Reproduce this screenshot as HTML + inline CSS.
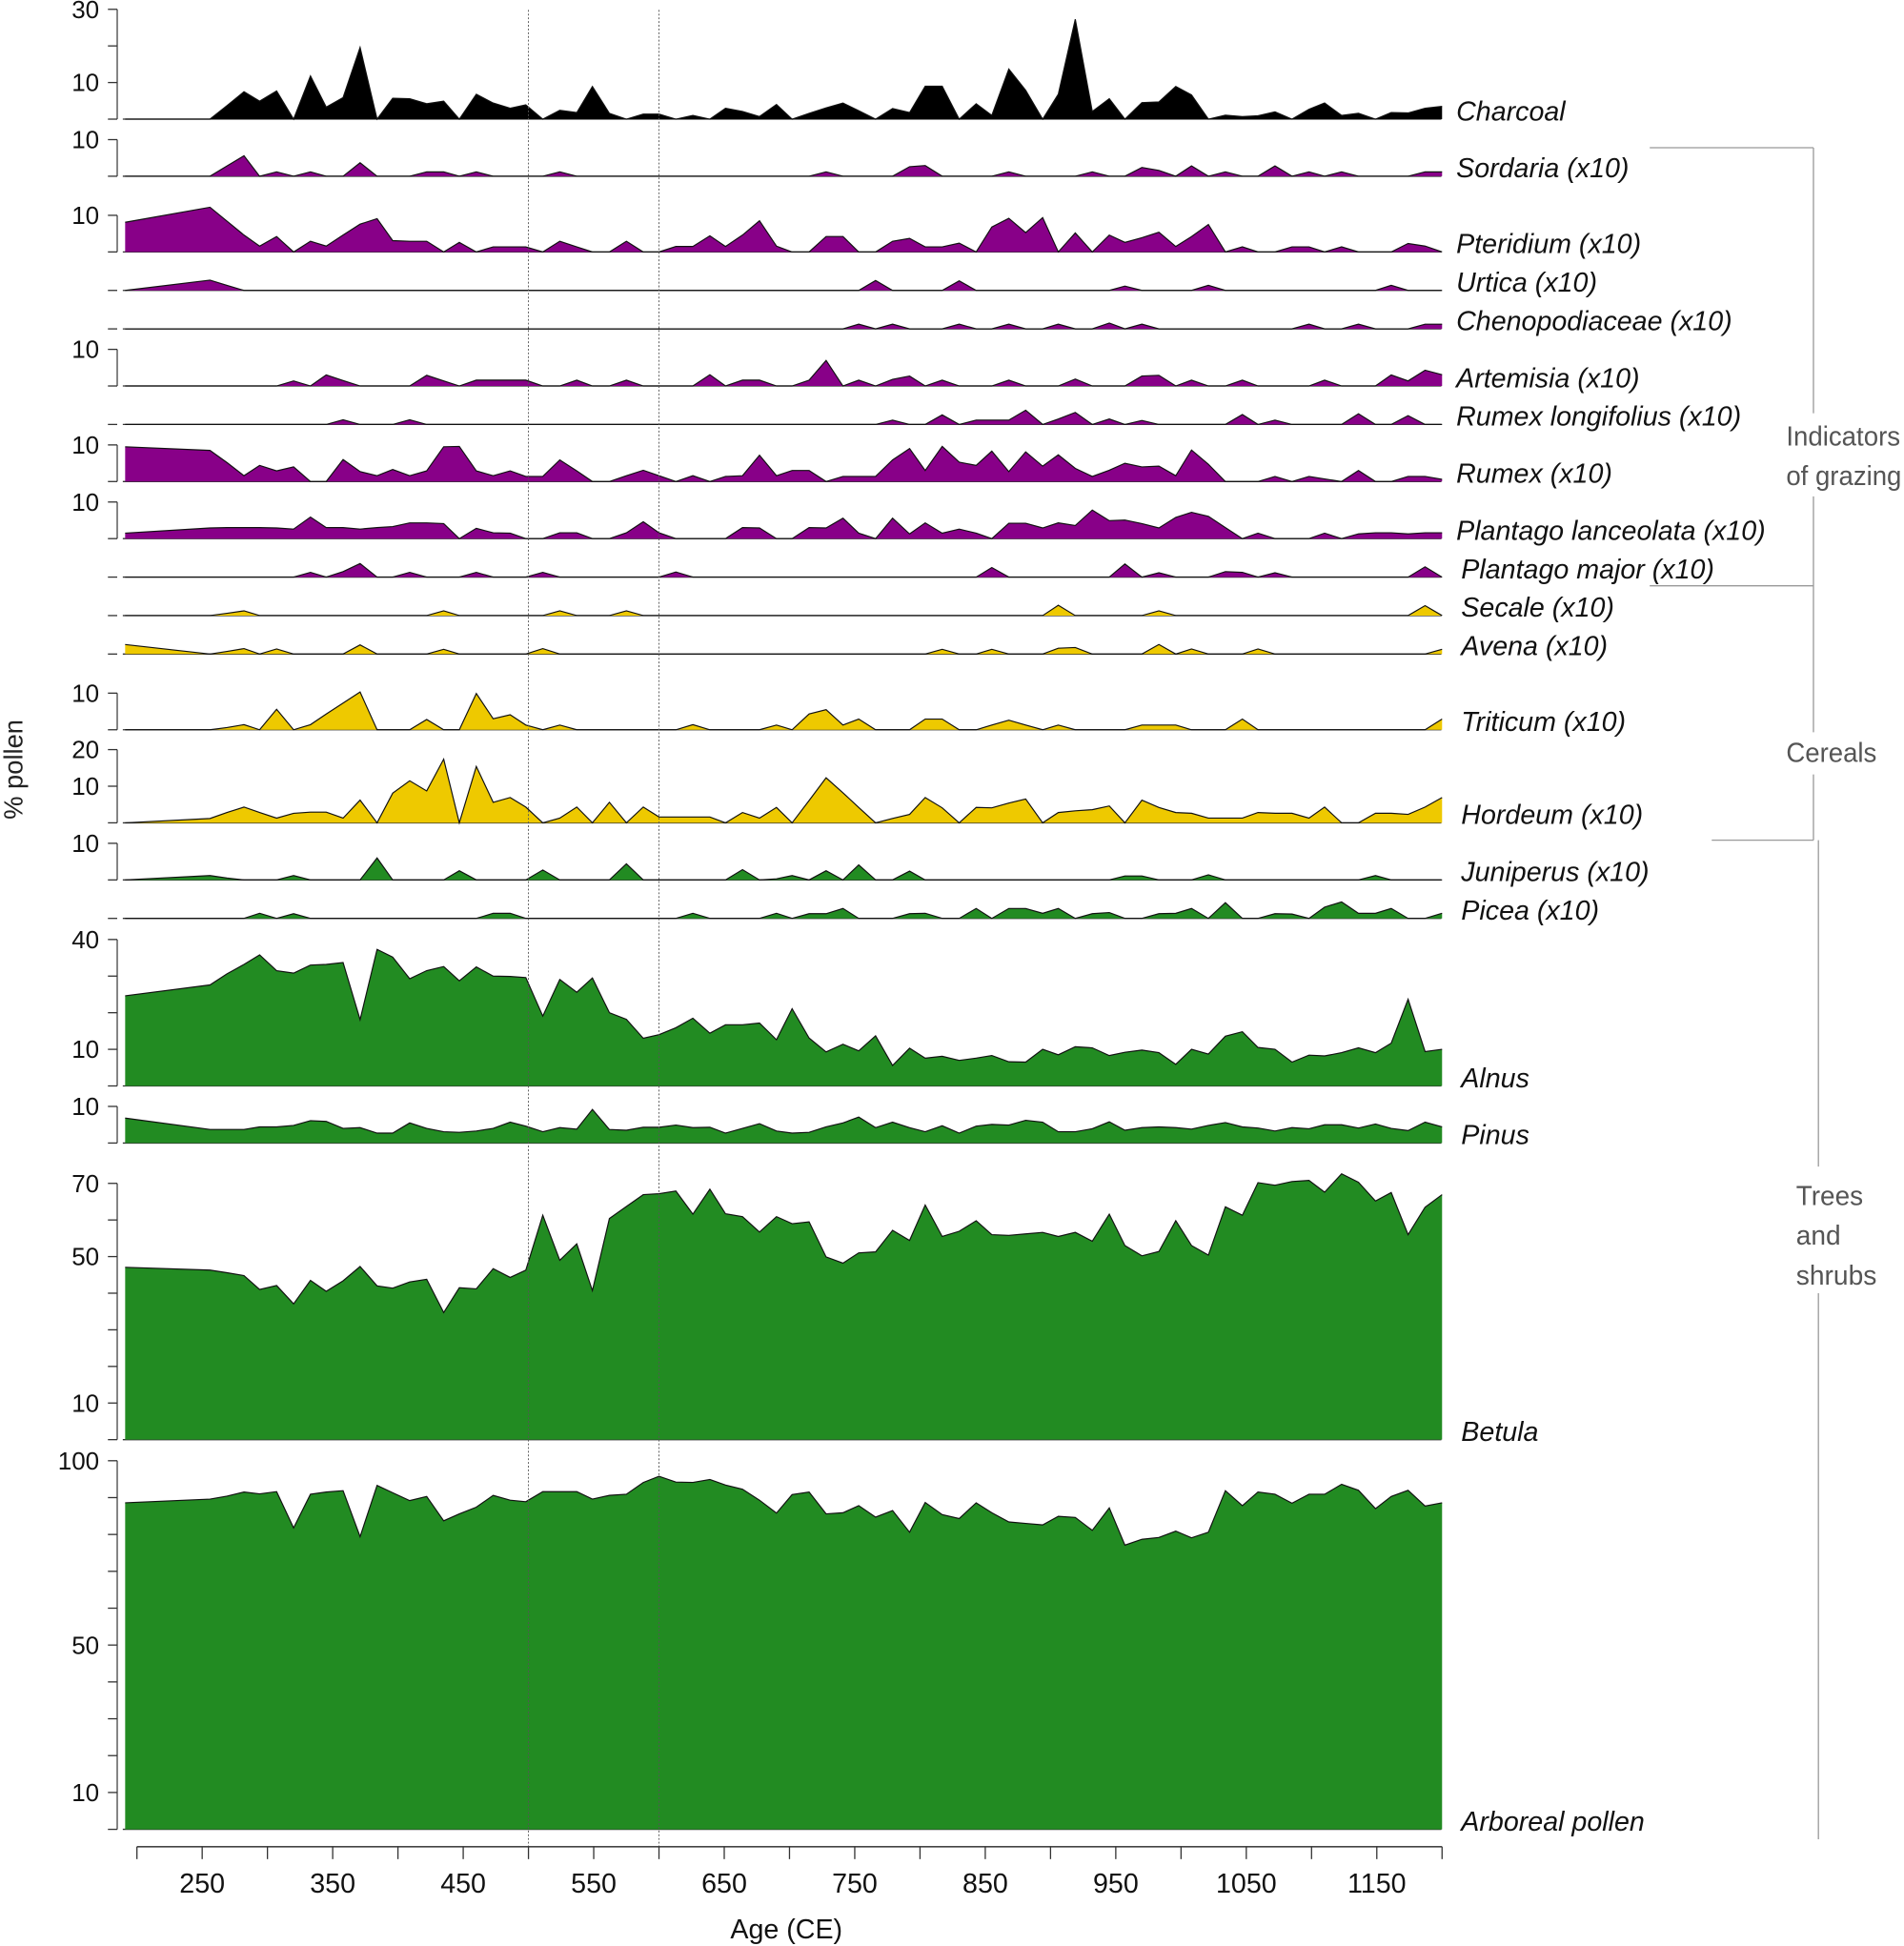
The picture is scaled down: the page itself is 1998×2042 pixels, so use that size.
<!DOCTYPE html>
<html>
<head>
<meta charset="utf-8">
<title>Pollen diagram</title>
<style>
html,body{margin:0;padding:0;background:#fff;}
svg{display:block;}
text{font-family:"Liberation Sans",sans-serif;}
</style>
</head>
<body>
<svg id="chart" xmlns="http://www.w3.org/2000/svg" width="1998" height="2042" viewBox="0 0 1535 1568" preserveAspectRatio="none">
  <g id="marks"></g>
  <g id="axes"></g>
  <g id="labels"></g>
  <g id="groups">
    <line x1="1330" y1="119" x2="1462" y2="119" stroke="#999" stroke-width="1"/>
    <line x1="1462" y1="119" x2="1462" y2="333" stroke="#999" stroke-width="1"/>
    <line x1="1462" y1="400" x2="1462" y2="590" stroke="#999" stroke-width="1"/>
    <line x1="1462" y1="624" x2="1462" y2="677" stroke="#999" stroke-width="1"/>
    <line x1="1330" y1="472" x2="1462" y2="472" stroke="#999" stroke-width="1"/>
    <line x1="1380" y1="677" x2="1462" y2="677" stroke="#999" stroke-width="1"/>
    <line x1="1466" y1="677" x2="1466" y2="940" stroke="#999" stroke-width="1"/>
    <line x1="1466" y1="1042" x2="1466" y2="1482" stroke="#999" stroke-width="1"/>
    <text x="1440" y="359" font-size="22" fill="#555" textLength="92" lengthAdjust="spacingAndGlyphs">Indicators</text>
    <text x="1440" y="391" font-size="22" fill="#555" textLength="93" lengthAdjust="spacingAndGlyphs">of grazing</text>
    <text x="1440" y="614" font-size="22" fill="#555" textLength="73" lengthAdjust="spacingAndGlyphs">Cereals</text>
    <text x="1448" y="971" font-size="22" fill="#555" textLength="54" lengthAdjust="spacingAndGlyphs">Trees</text>
    <text x="1448" y="1003" font-size="22" fill="#555" textLength="36" lengthAdjust="spacingAndGlyphs">and</text>
    <text x="1448" y="1035" font-size="22" fill="#555" textLength="65" lengthAdjust="spacingAndGlyphs">shrubs</text>
  </g>
  <text x="0" y="0" font-size="21" fill="#222" text-anchor="middle" transform="translate(18,620) rotate(-90)">% pollen</text>
  <text x="634" y="1562" font-size="22" fill="#111" text-anchor="middle">Age (CE)</text>
</svg>
<script>
// ---- data ----
const ages = [191,256,269,282,294,307,320,333,345,358,371,384,396,409,422,435,447,460,473,486,498,511,524,537,549,562,575,588,600,613,626,639,651,664,677,690,702,715,728,741,753,766,779,792,804,817,830,843,855,868,881,894,906,919,932,945,957,970,983,996,1008,1021,1034,1047,1059,1072,1085,1098,1110,1123,1136,1149,1161,1174,1187,1200];

const charcoal = [0,0,3.7,7.5,4.9,7.7,0,11.8,3.3,5.9, 19.6,0,5.7,5.6,4.2,4.9,0,6.8,4.4,3.0, 3.9,0,2.4,1.8,8.9,1.6,0,1.4,1.4,0, 1.0,0,3.0,2.1,0.7,4.0,0,1.6,3.1,4.4, 2.3,0,2.9,1.8,9.0,9.0,0,4.2,1.0,13.7, 7.9,0,6.8,27.3,2.1,5.6,0,4.5,4.7,8.9, 6.6,0,1.1,0.7,0.9,2.0,0,2.7,4.4,1.0, 1.6,0,1.8,1.7,3.0,3.5];
const sordaria = [0,0,2.8,5.6,0,1.2,0,1.2,0,0, 3.7,0,0,0,1.2,1.2,0,1.2,0,0, 0,0,1.2,0,0,0,0,0,0,0, 0,0,0,0,0,0,0,0,1.2,0, 0,0,0,2.6,2.9,0,0,0,0,1.2, 0,0,0,0,1.2,0,0,2.4,1.6,0, 2.8,0,1.2,0,0,2.8,0,1.2,0,1.2, 0,0,0,0,1.2,1.2];
const pteridium = [8.1,12.2,8.4,4.6,1.6,4.2,0,2.9,1.6,4.6, 7.6,9.1,3.1,2.9,2.9,0,2.6,0,1.4,1.4, 1.4,0,2.9,1.4,0,0,2.9,0,0,1.5, 1.5,4.4,1.5,4.6,8.5,1.6,0,0,4.2,4.2, 0,0,2.9,3.7,1.4,1.4,2.4,0,6.8,9.2, 5.3,9.4,0,5.2,0,4.6,2.6,3.9,5.4,1.5, 4.2,7.5,0,1.4,0,0,1.4,1.4,0,1.4, 0,0,0,2.3,1.6,0];
const urtica = [0,2.8,1.4,0,0,0,0,0,0,0, 0,0,0,0,0,0,0,0,0,0, 0,0,0,0,0,0,0,0,0,0, 0,0,0,0,0,0,0,0,0,0, 0,2.7,0,0,0,0,2.6,0,0,0, 0,0,0,0,0,0,1.2,0,0,0, 0,1.4,0,0,0,0,0,0,0,0, 0,0,1.4,0,0,0];
const chenopodiaceae = [0,0,0,0,0,0,0,0,0,0, 0,0,0,0,0,0,0,0,0,0, 0,0,0,0,0,0,0,0,0,0, 0,0,0,0,0,0,0,0,0,0, 1.3,0,1.3,0,0,0,1.3,0,0,1.3, 0,0,1.3,0,0,1.6,0,1.3,0,0, 0,0,0,0,0,0,0,1.3,0,0, 1.3,0,0,0,1.3,1.3];
const artemisia = [0,0,0,0,0,0,1.4,0,3.0,1.5, 0,0,0,0,2.9,1.4,0,1.6,1.6,1.6, 1.6,0,0,1.6,0,0,1.6,0,0,0, 0,3.1,0,1.6,1.6,0,0,1.6,7.0,0, 1.6,0,1.8,2.7,0,1.6,0,0,0,1.6, 0,0,0,1.9,0,0,0,2.7,2.9,0, 1.6,0,0,1.6,0,0,0,0,1.6,0, 0,0,3.0,1.4,4.3,3.1];
const rumexLongifolius = [0,0,0,0,0,0,0,0,0,1.3, 0,0,0,1.3,0,0,0,0,0,0, 0,0,0,0,0,0,0,0,0,0, 0,0,0,0,0,0,0,0,0,0, 0,0,1.2,0,0,2.6,0,1.2,1.2,1.2, 3.9,0,1.5,3.3,0,1.5,0,1.1,0,0, 0,0,0,2.7,0,1.2,0,0,0,0, 2.9,0,0,2.4,0,0];
const rumex = [9.5,8.5,5.2,1.6,4.4,2.9,4.0,0,0,6.0, 2.7,1.6,3.3,1.6,2.9,9.5,9.6,2.9,1.6,2.9, 1.4,1.4,5.9,2.9,0,0,1.6,3.1,1.6,0, 1.6,0,1.4,1.6,7.2,1.6,3.0,3.0,0,1.4, 1.4,1.4,5.9,9.0,3.0,9.6,5.3,4.4,8.3,2.7, 8.1,4.2,7.3,3.6,1.4,3.1,5.0,4.0,4.2,1.6, 8.6,4.7,0,0,0,1.4,0,1.4,0.7,0, 3.0,0,0,1.4,1.4,0.6];
const plantagoLanceolata = [1.5,2.9,3.0,3.0,3.0,2.9,2.6,5.9,3.0,3.0, 2.6,3.0,3.3,4.3,4.3,4.1,0,2.8,1.6,1.5, 0,0,1.6,1.6,0,0,1.6,4.6,1.6,0, 0,0,0,3.0,2.9,0,0,3.0,2.9,5.6, 1.5,0,5.6,1.3,4.3,1.5,2.6,1.5,0,4.2, 4.2,2.9,4.3,3.6,7.8,4.9,5.1,4.1,2.9,5.8, 7.2,6.1,3.0,0,1.5,0,0,0,1.5,0, 1.3,1.6,1.6,1.3,1.6,1.6];
const plantagoMajor = [0,0,0,0,0,0,0,1.3,0,1.5, 3.7,0,0,1.3,0,0,0,1.3,0,0, 0,1.3,0,0,0,0,0,0,0,1.4, 0,0,0,0,0,0,0,0,0,0, 0,0,0,0,0,0,0,0,2.6,0, 0,0,0,0,0,0,3.6,0,1.2,0, 0,0,1.5,1.3,0,1.2,0,0,0,0, 0,0,0,0,2.8,0];
const secale = [0,0,0.6,1.3,0,0,0,0,0,0, 0,0,0,0,0,1.3,0,0,0,0, 0,0,1.3,0,0,0,1.3,0,0,0, 0,0,0,0,0,0,0,0,0,0, 0,0,0,0,0,0,0,0,0,0, 0,0,2.8,0,0,0,0,0,1.3,0, 0,0,0,0,0,0,0,0,0,0, 0,0,0,0,2.7,0];
const avena = [2.6,0,0.7,1.5,0,1.4,0,0,0,0, 2.5,0,0,0,0,1.3,0,0,0,0, 0,1.5,0,0,0,0,0,0,0,0, 0,0,0,0,0,0,0,0,0,0, 0,0,0,0,0,1.3,0,0,1.3,0, 0,0,1.6,1.8,0,0,0,0,2.6,0, 1.4,0,0,0,1.4,0,0,0,0,0, 0,0,0,0,0,1.3];
const triticum = [0,0,0.6,1.4,0,5.6,0,1.4,4.3,7.3, 10.3,0,0,0,2.8,0,0,9.9,3.0,4.1, 1.3,0,1.3,0,0,0,0,0,0,0, 1.4,0,0,0,0,1.3,0,4.3,5.5,1.3, 2.9,0,0,0,2.9,2.9,0,0,1.3,2.6, 1.3,0,1.3,0,0,0,0,1.3,1.3,1.3, 0,0,0,2.9,0,0,0,0,0,0, 0,0,0,0,0,2.9];
const hordeum = [0,1.2,2.8,4.3,2.8,1.3,2.6,2.9,2.9,1.3, 6.2,0,8.1,11.5,8.7,17.4,0,15.4,5.6,6.9, 4.3,0,1.3,4.3,0,5.6,0,4.3,1.6,1.6, 1.6,1.6,0,2.8,1.3,4.2,0,6.1,12.3,8.2, 4.2,0,1.2,2.3,6.9,4.1,0,4.2,4.1,5.4, 6.5,0,2.8,3.3,3.6,4.6,0,6.2,4.2,2.8, 2.6,1.3,1.3,1.3,2.8,2.6,2.6,1.3,4.3,0, 0,2.6,2.6,2.3,4.3,6.9];
const juniperus = [0,1.2,0.5,0,0,0,1.2,0,0,0, 0,6.0,0,0,0,0,2.5,0,0,0, 0,2.7,0,0,0,0,4.4,0,0,0, 0,0,0,2.8,0,0.3,1.2,0,2.5,0, 4.1,0,0,2.4,0,0,0,0,0,0, 0,0,0,0,0,0,1.1,1.1,0,0, 0,1.4,0,0,0,0,0,0,0,0, 0,1.2,0,0,0,0];
const picea = [0,0,0,0,1.4,0,1.3,0,0,0, 0,0,0,0,0,0,0,0,1.4,1.4, 0,0,0,0,0,0,0,0,0,0, 1.4,0,0,0,0,1.4,0,1.3,1.3,2.7, 0,0,0,1.3,1.4,0,0,2.7,0,2.7, 2.7,1.4,2.7,0,1.3,1.6,0,0,1.3,1.4, 2.7,0,4.3,0,0,1.3,1.2,0,3.1,4.5, 1.4,1.4,2.7,0,0,1.4];
const alnus = [24.6,27.6,30.6,33.2,35.8,31.5,30.8,33.0,33.2,33.7, 18.1,37.3,35.2,29.3,31.5,32.6,28.7,32.5,30.0,29.9, 29.6,19.1,29.1,25.6,29.5,20.0,18.2,13.0,14.0,15.9, 18.5,14.4,16.7,16.7,17.2,12.6,21.1,13.1,9.3,11.4, 9.6,13.7,5.6,10.3,7.6,8.1,7.0,7.6,8.3,6.6, 6.5,10.0,8.5,10.7,10.4,8.3,9.2,9.8,9.1,5.9, 10.0,8.7,13.6,14.8,10.5,10.0,6.5,8.4,8.2,9.1, 10.4,9.1,11.7,23.7,9.4,10.0];
const pinus = [6.8,3.7,3.7,3.7,4.4,4.4,4.8,6.1,5.9,4.0, 4.2,2.7,2.7,5.5,4.0,3.1,2.9,3.3,4.0,5.7, 4.6,3.1,4.2,3.8,9.2,3.7,3.5,4.3,4.3,4.9, 4.2,4.3,2.7,4.0,5.3,3.3,2.7,2.9,4.4,5.5, 7.1,4.2,5.7,4.2,3.1,4.7,2.7,4.6,5.1,4.9, 6.2,5.7,3.1,3.1,3.9,5.8,3.5,4.2,4.4,4.2, 3.8,4.8,5.6,4.4,4.1,3.3,4.2,3.9,5.0,5.0, 4.1,5.2,4.0,3.4,5.7,4.4];
const betula = [47.1,46.3,45.6,44.8,41.0,42.1,37.1,43.5,40.5,43.4, 47.3,42.0,41.4,43.1,43.8,34.7,41.5,41.2,46.7,44.3, 46.3,61.3,49.0,53.5,40.7,60.4,63.7,66.9,67.2,67.9, 61.6,68.4,61.7,60.9,56.7,60.9,59.0,59.5,49.9,48.2, 51.0,51.3,57.2,54.4,64.1,55.5,56.9,59.8,56.0,55.8, 56.2,56.6,55.5,56.6,54.2,61.6,53.0,50.2,51.4,59.8, 53.0,50.4,63.6,61.3,70.2,69.5,70.5,70.8,67.6,72.6, 70.3,65.2,67.5,56.0,63.5,66.9];
const arboreal = [88.6,89.6,90.4,91.5,91.0,91.6,81.8,90.9,91.5,91.9, 79.4,93.3,91.3,89.2,90.3,83.7,85.6,87.4,90.6,89.3, 88.9,91.6,91.6,91.6,89.6,90.6,90.9,94.1,95.8,94.2, 94.1,94.9,93.4,92.3,89.3,85.8,90.8,91.5,85.6,85.9, 87.8,84.7,86.5,80.6,88.7,85.4,84.3,88.6,85.9,83.4, 83.0,82.6,84.9,84.6,81.1,87.2,77.1,78.7,79.2,80.9, 79.1,80.6,91.9,87.8,91.5,90.9,88.5,90.9,90.9,93.6, 92.0,87.0,90.3,92.0,87.7,88.6];

const xTickValues = [200,250,300,350,400,450,500,550,600,650,700,750,800,850,900,950,1000,1050,1100,1150,1200];
const xTickLabels = ["250","350","450","550","650","750","850","950","1050","1150"];
const markerAges = [500,600];

// ---- layout ----
const BLACK="#000000", PURPLE="#880088", YELLOW="#eec900", GREEN="#228b22";
const panels = [
  {key:"charcoal", data:charcoal, label:"Charcoal", color:BLACK, base:96, ticks:[0,10,20,30], tl:[10,30], lx:1174},
  {key:"sordaria", data:sordaria, label:"Sordaria (x10)", color:PURPLE, base:142, ticks:[0,10], tl:[10], lx:1174},
  {key:"pteridium", data:pteridium, label:"Pteridium (x10)", color:PURPLE, base:203, ticks:[0,10], tl:[10], lx:1174},
  {key:"urtica", data:urtica, label:"Urtica (x10)", color:PURPLE, base:234, ticks:[0], tl:[], lx:1174},
  {key:"chenopodiaceae", data:chenopodiaceae, label:"Chenopodiaceae (x10)", color:PURPLE, base:265, ticks:[0], tl:[], lx:1174},
  {key:"artemisia", data:artemisia, label:"Artemisia (x10)", color:PURPLE, base:311, ticks:[0,10], tl:[10], lx:1174},
  {key:"rumex-longifolius", data:rumexLongifolius, label:"Rumex longifolius (x10)", color:PURPLE, base:342, ticks:[0], tl:[], lx:1174},
  {key:"rumex", data:rumex, label:"Rumex (x10)", color:PURPLE, base:388, ticks:[0,10], tl:[10], lx:1174},
  {key:"plantago-lanceolata", data:plantagoLanceolata, label:"Plantago lanceolata (x10)", color:PURPLE, base:434, ticks:[0,10], tl:[10], lx:1174},
  {key:"plantago-major", data:plantagoMajor, label:"Plantago major (x10)", color:PURPLE, base:465, ticks:[0], tl:[], lx:1178},
  {key:"secale", data:secale, label:"Secale (x10)", color:YELLOW, base:496, ticks:[0], tl:[], lx:1178},
  {key:"avena", data:avena, label:"Avena (x10)", color:YELLOW, base:527, ticks:[0], tl:[], lx:1178},
  {key:"triticum", data:triticum, label:"Triticum (x10)", color:YELLOW, base:588, ticks:[0,10], tl:[10], lx:1178},
  {key:"hordeum", data:hordeum, label:"Hordeum (x10)", color:YELLOW, base:663, ticks:[0,10,20], tl:[10,20], lx:1178},
  {key:"juniperus", data:juniperus, label:"Juniperus (x10)", color:GREEN, base:709, ticks:[0,10], tl:[10], lx:1178},
  {key:"picea", data:picea, label:"Picea (x10)", color:GREEN, base:740, ticks:[0], tl:[], lx:1178},
  {key:"alnus", data:alnus, label:"Alnus", color:GREEN, base:875, ticks:[0,10,20,30,40], tl:[10,40], lx:1178},
  {key:"pinus", data:pinus, label:"Pinus", color:GREEN, base:921, ticks:[0,10], tl:[10], lx:1178},
  {key:"betula", data:betula, label:"Betula", color:GREEN, base:1160, ticks:[0,10,20,30,40,50,60,70], tl:[10,50,70], lx:1178},
  {key:"arboreal-pollen", data:arboreal, label:"Arboreal pollen", color:GREEN, base:1474, ticks:[0,10,20,30,40,50,60,70,80,90,100], tl:[10,50,100], lx:1178, k:2.97}
];

const NS="http://www.w3.org/2000/svg";
function xScale(age){ return 163 + (age-250)*1.0522; }
function yScale(p, v){ return p.base - v*(p.k||2.95); }
function mk(tag, attrs, parent){
  const e=document.createElementNS(NS,tag);
  for(const a in attrs) e.setAttribute(a, attrs[a]);
  parent.appendChild(e); return e;
}

const gMarks=document.getElementById("marks");
const gAxes=document.getElementById("axes");
const gLabels=document.getElementById("labels");

panels.forEach(p=>{
  const bl=mk("line",{x1:99,x2:1162,y1:p.base,y2:p.base,stroke:"#333","stroke-width":1},gMarks);
  
  
  let pts=[];
  for(let i=0;i<ages.length;i++){
    pts.push(xScale(ages[i]).toFixed(1)+","+yScale(p,p.data[i]).toFixed(1));
  }
  const closed = pts.concat([xScale(ages[ages.length-1]).toFixed(1)+","+p.base, xScale(ages[0]).toFixed(1)+","+p.base]);
  const poly=mk("polygon",{points:closed.join(" "),fill:p.color,stroke:"none"},gMarks);
  
  
  const line=mk("polyline",{points:pts.join(" "),fill:"none",stroke:"#111","stroke-width":0.9,"stroke-linejoin":"miter"},gMarks);
  
  
  const top=yScale(p,p.ticks[p.ticks.length-1]);
  if(p.ticks.length>1){
    const ax=mk("line",{x1:94.5,x2:94.5,y1:top,y2:p.base,stroke:"#444","stroke-width":1},gAxes);
    
    
  }
  p.ticks.forEach(t=>{
    const yy=yScale(p,t);
    const tk=mk("line",{x1:87,x2:94.5,y1:yy,y2:yy,stroke:"#333","stroke-width":1},gAxes);
    
    
  });
  p.tl.forEach(t=>{
    const tx=mk("text",{x:80,y:yScale(p,t)+7,"font-size":20,"text-anchor":"end",fill:"#111"},gAxes);
    tx.textContent=String(t);
    
    
  });
  const lb=mk("text",{x:p.lx,y:p.base+1,"font-size":22,"font-style":"italic",fill:"#111"},gLabels);
  lb.textContent=p.label;
  
  
});

markerAges.forEach(a=>{
  const l=mk("line",{x1:xScale(a),x2:xScale(a),y1:8,y2:1488,stroke:"#555","stroke-width":0.7,"stroke-dasharray":"1.5,1.5"},gAxes);
  
  
});

const xa=mk("line",{x1:xScale(200),x2:xScale(1200),y1:1488,y2:1488,stroke:"#444","stroke-width":1.2},gAxes);


xTickValues.forEach(v=>{
  const t=mk("line",{x1:xScale(v),x2:xScale(v),y1:1488,y2:1498,stroke:"#333","stroke-width":1},gAxes);
  
  
});
xTickLabels.forEach(s=>{
  const t=mk("text",{x:xScale(+s),y:1525,"font-size":22,"text-anchor":"middle",fill:"#111"},gAxes);
  t.textContent=s;
  
  
});
</script>
</body>
</html>
